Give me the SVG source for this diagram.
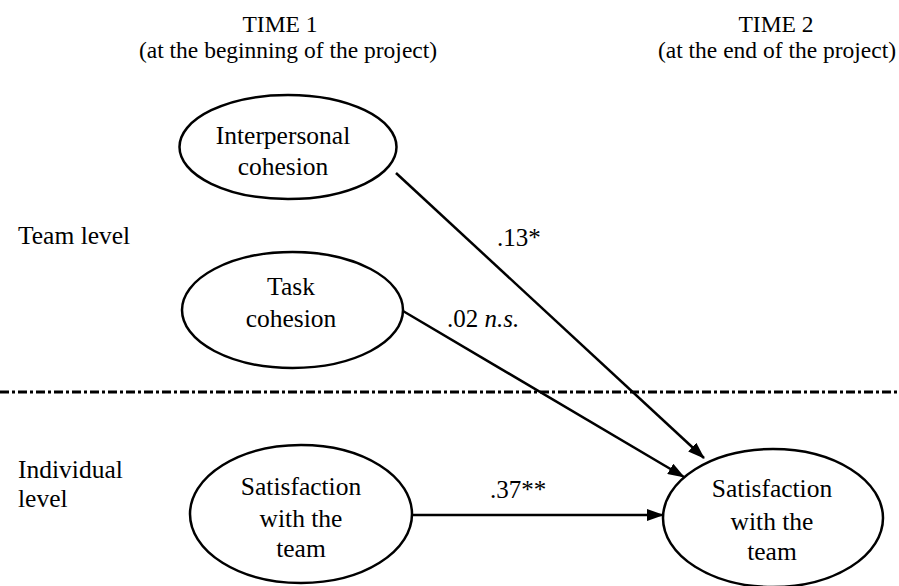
<svg xmlns="http://www.w3.org/2000/svg" width="899" height="586" viewBox="0 0 899 586">
<style>
text{font-family:'Liberation Serif','Times New Roman',serif;font-size:25.5px;fill:#000}
.h{font-size:23.5px}
.c{text-anchor:middle}
.n{fill:#fff;stroke:#000;stroke-width:2.5}
.e{stroke:#000;stroke-width:2.5;fill:none;marker-end:url(#ah)}
</style>
<defs>
<marker id="ah" markerWidth="17" markerHeight="12" refX="16" refY="6" orient="auto" markerUnits="userSpaceOnUse">
<path d="M0,0 L17,6 L0,12 Z" fill="#000"/>
</marker>
</defs>
<rect width="899" height="586" fill="#fff"/>
<g id="headers">
<text class="c h" x="280" y="32">TIME 1</text>
<text class="c h" x="288" y="58">(at the beginning of the project)</text>
<text class="c h" x="776" y="32">TIME 2</text>
<text class="c h" x="777" y="58">(at the end of the project)</text>
</g>
<g id="levels">
<text x="18" y="244">Team level</text>
<text x="18" y="478">Individual</text>
<text x="18" y="507">level</text>
</g>
<line x1="0" y1="392" x2="899" y2="392" stroke="#000" stroke-width="3" stroke-dasharray="9,3,3,3"/>
<g id="connectors">
<line class="e" x1="396" y1="173" x2="704" y2="458"/>
<line class="e" x1="403" y1="311" x2="684" y2="477"/>
<line class="e" x1="412" y1="515" x2="663" y2="515"/>
<text x="497" y="246" style="font-size:25px">.13*</text>
<text x="447" y="327" style="font-size:25px">.02 <tspan font-style="italic">n.s.</tspan></text>
<text x="490" y="498" style="font-size:25px">.37**</text>
</g>
<g id="interpersonal">
<ellipse class="n" cx="288" cy="147" rx="108.5" ry="52"/>
<text class="c" x="283" y="144">Interpersonal</text>
<text class="c" x="283" y="175">cohesion</text>
</g>
<g id="task">
<ellipse class="n" cx="292.5" cy="310" rx="110.5" ry="58"/>
<text class="c" x="291" y="295">Task</text>
<text class="c" x="291" y="327">cohesion</text>
</g>
<g id="satisfaction1">
<ellipse class="n" cx="301" cy="514" rx="111" ry="69"/>
<text class="c" x="301" y="495">Satisfaction</text>
<text class="c" x="301" y="527">with the</text>
<text class="c" x="301" y="557">team</text>
</g>
<g id="satisfaction2">
<ellipse class="n" cx="773" cy="518" rx="110" ry="69"/>
<text class="c" x="772" y="497">Satisfaction</text>
<text class="c" x="772" y="530">with the</text>
<text class="c" x="772" y="560">team</text>
</g>
</svg>
